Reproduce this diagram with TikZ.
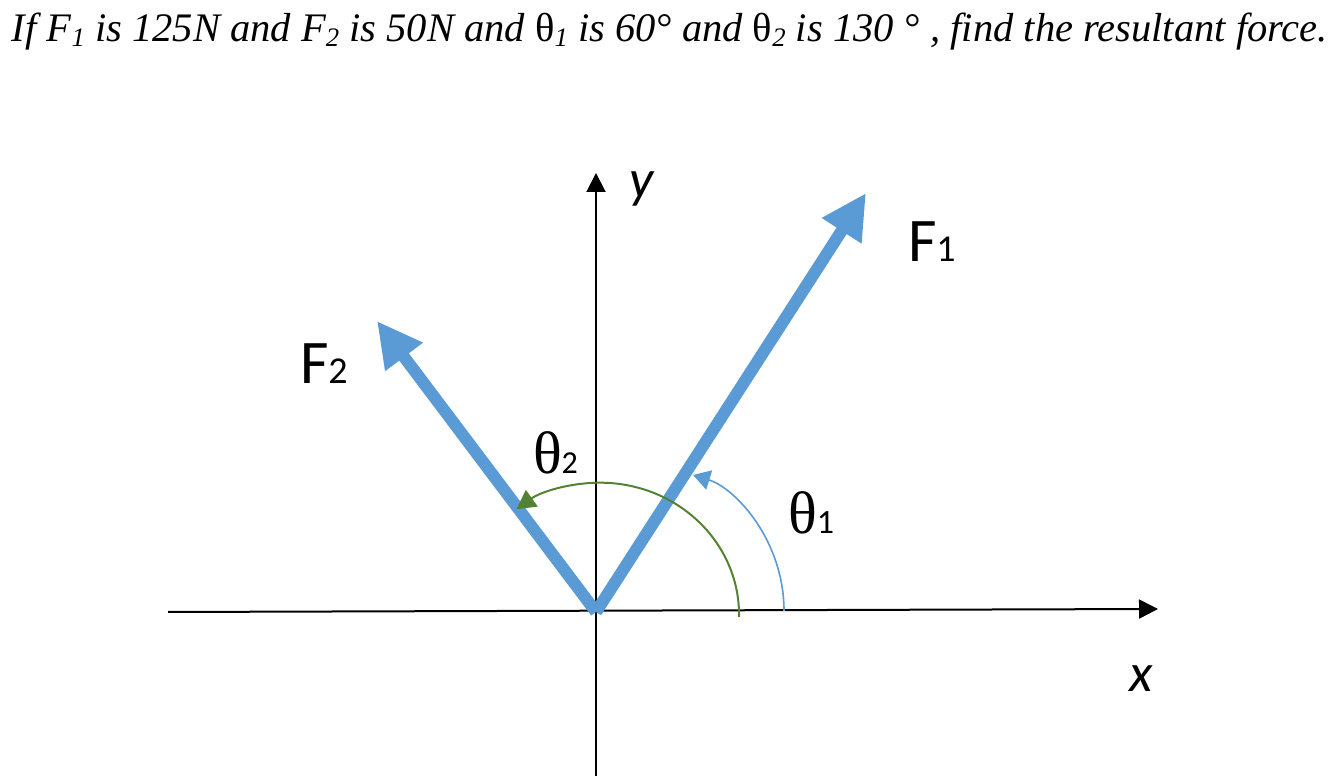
\documentclass[tikz,border=0pt]{standalone}
\usepackage{fontspec}
\setmainfont{Liberation Serif}
\newfontfamily\calfont{Carlito}
\usetikzlibrary{arrows.meta}
\definecolor{fblue}{HTML}{5B9BD5}
\definecolor{fgreen}{HTML}{548235}
\newcommand\mysubidx[1]{\raisebox{-0.12em}{\fontsize{27}{30}\selectfont #1}}
\tikzset{
  axisline/.style={line width=2pt, -{Triangle[length=19pt,width=19pt]}},
  force/.style={draw=fblue, line width=12pt, line cap=butt, -{Triangle[length=45pt,width=44pt]}},
  lbl/.style={inner sep=0pt, outer sep=0pt},
}
\begin{document}
\begin{tikzpicture}[x=1pt,y=1pt]
\useasboundingbox (0,0) rectangle (1338,776);
% coordinates
\coordinate (O) at (596,164);
\coordinate (xl) at (168,164);
\coordinate (xr) at (1158,167);
\coordinate (yb) at (596,0);
\coordinate (yt) at (596,603);
\coordinate (F1tip) at (866,583);
\coordinate (F2tip) at (377,455);
\coordinate (g0) at (739,159);
\coordinate (b0) at (784,165);
\coordinate (b1) at (693,301);
% title
\node[lbl, anchor=base west] (title) at (12,734) {\resizebox{1316pt}{!}{\fontsize{41}{48}\selectfont\itshape If F\mysubidx{1} is 125N and F\mysubidx{2} is 50N and {\upshape θ}\mysubidx{1} is 60° and {\upshape θ}\mysubidx{2} is 130 ° , find the resultant force.}};
% axes
\draw[axisline] (xl) -- (xr);
\draw[axisline] (yb) -- (yt);
% forces
\draw[force] (O) -- (F1tip);
\draw[force] (O) -- (F2tip);
% angle arcs
\draw[fgreen, line width=2pt, -{Triangle[length=19pt,width=20pt]}] (g0) arc[start angle=-1, end angle=127, x radius=139, y radius=132];
\draw[fblue, line width=1.6pt, -{Triangle[length=17pt,width=20pt]}] (b0) .. controls (784,236) and (735,288) .. (b1);
% labels
\node[lbl, anchor=base] (ylab) at (642,578) {\calfont\itshape\fontsize{54}{60}\selectfont y};
\node[lbl, anchor=base] (xlab) at (1141,84) {\calfont\itshape\fontsize{54}{60}\selectfont x};
\node[lbl, anchor=base west] (F1lab) at (908,514) {\calfont\fontsize{62}{70}\selectfont F{\fontsize{38}{40}\selectfont 1}};
\node[lbl, anchor=base west] (F2lab) at (300,392) {\calfont\fontsize{62}{70}\selectfont F{\fontsize{38}{40}\selectfont 2}};
\node[lbl, anchor=base west] (t2lab) at (533,302) {\fontsize{60}{66}\selectfont θ\calfont\fontsize{32}{36}\selectfont 2};
\node[lbl, anchor=base west] (t1lab) at (788,242) {\fontsize{60}{66}\selectfont θ\calfont\fontsize{34}{38}\selectfont 1};
\end{tikzpicture}
\end{document}
